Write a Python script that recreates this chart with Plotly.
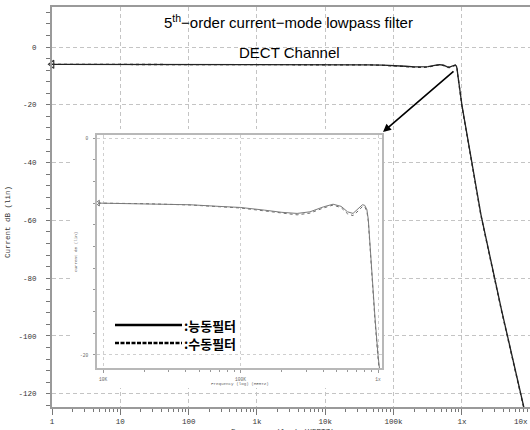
import math
import plotly.graph_objects as go

# ---------------- data ----------------
freq_hz = [1, 10, 100, 1e3, 9.2e3, 2e4, 4.3e4, 7e4, 1e5, 1.5e5, 2e5, 2.58e5, 3.2e5,
           4e5, 4.71e5, 5.4e5, 6e5, 6.58e5, 7.2e5, 7.7e5, 8e5, 8.3e5, 8.5e5, 8.7e5,
           9e5, 9.5e5, 1e6, 1.05e6, 1.3e6, 1.9e6, 3.8e6, 8.5e6]
active_db = [-6.0, -6.0, -6.0, -6.0, -6.0, -6.05, -6.15, -6.3, -6.4, -6.65, -6.85, -6.95, -6.8,
             -6.35, -6.1, -6.3, -6.8, -6.95, -6.5, -6.15, -6.2, -6.6, -7.5, -9.5,
             -12.5, -16.5, -20.0, -23.0, -36.0, -58.0, -91.0, -127.0]
passive_db = [-6.0, -6.0, -6.0, -6.0, -6.0, -6.05, -6.17, -6.33, -6.45, -6.72, -6.93, -7.08, -6.92,
              -6.45, -6.18, -6.42, -6.98, -7.15, -6.7, -6.32, -6.33, -6.75, -7.7, -9.7,
              -12.8, -16.8, -20.3, -23.3, -36.3, -58.3, -91.3, -127.3]
inset_start_hz = 9.2e3

main_x_ticks = [1, 10, 100, 1e3, 1e4, 1e5, 1e6]
main_x_labels = ["1", "10", "100", "1k", "10k", "100k", "1x"]
last_x_tick = 1e7
last_x_label = "10x"
main_y_ticks = [0, -20, -40, -60, -80, -100, -120]
main_y_labels = ["0", "-20", "-40", "-60", "-80", "-100", "-120"]
inset_x_ticks = [1e4, 1e5, 1e6]
inset_x_labels = ["10K", "100K", "1x"]
inset_y_ticks = [0, -20]
inset_y_labels = ["0", "-20"]

title_line1 = "5<sup>th</sup>\u2212order current\u2212mode lowpass filter"
title_line2 = "DECT Channel"
y_title = "Current dB (lin)"
x_title = "Frequency (log) (HERTZ)"
legend_active = ":능동필터"
legend_passive = ":수동필터"

# ---------------- layout helpers ----------------
W, H = 530, 430
L, R, T, B = 52, 0, 7, 23
PW, PH = W - L - R, H - T - B


def fx(p):
    return (p - L) / PW


def fy(p):
    return (H - B - p) / PH


mono = "Liberation Mono"
inset_sel = [i for i, f in enumerate(freq_hz) if f >= inset_start_hz]
inset_f = [freq_hz[i] for i in inset_sel]
inset_a = [active_db[i] for i in inset_sel]
inset_p = [passive_db[i] for i in inset_sel]

fig = go.Figure()

# main plot curves
fig.add_trace(go.Scatter(x=freq_hz, y=passive_db, mode="lines",
                         line=dict(color="#333333", width=1.3, dash="dot"),
                         xaxis="x", yaxis="y", showlegend=False, hoverinfo="skip"))
fig.add_trace(go.Scatter(x=freq_hz, y=active_db, mode="lines",
                         line=dict(color="#222222", width=1.3),
                         xaxis="x", yaxis="y", showlegend=False, hoverinfo="skip"))
fig.add_trace(go.Scatter(x=freq_hz[:1], y=active_db[:1], mode="markers",
                         marker=dict(symbol="triangle-left-open", size=7,
                                     color="#333333", line=dict(width=1.2)),
                         xaxis="x", yaxis="y", showlegend=False, hoverinfo="skip",
                         cliponaxis=False))

# white backing box for the inset (own subplot so its background hides main grid)
fig.add_trace(go.Scatter(x=[], y=[], xaxis="x2", yaxis="y2",
                         showlegend=False, hoverinfo="skip"))

# inset curves
fig.add_trace(go.Scatter(x=inset_f, y=inset_p, mode="lines",
                         line=dict(color="#6a6a6a", width=1, dash="dot"),
                         xaxis="x3", yaxis="y3", showlegend=False, hoverinfo="skip"))
fig.add_trace(go.Scatter(x=inset_f, y=inset_a, mode="lines",
                         line=dict(color="#7a7a7a", width=1),
                         xaxis="x3", yaxis="y3", showlegend=False, hoverinfo="skip"))
fig.add_trace(go.Scatter(x=inset_f[:1], y=inset_a[:1], mode="markers",
                         marker=dict(symbol="triangle-left-open", size=5,
                                     color="#777777", line=dict(width=1)),
                         xaxis="x3", yaxis="y3", showlegend=False, hoverinfo="skip",
                         cliponaxis=False))

main_minor_x = [k * 10 ** d for d in range(0, 7) for k in range(2, 10)]
main_minor_y = list(range(-124, 14, 4))
inset_minor_x = [k * 10 ** d for d in range(4, 6) for k in range(2, 10)]
inset_minor_y = list(range(-20, 1, 2))

grid_col = "#c4c4c4"
fig.update_layout(
    width=W, height=H,
    margin=dict(l=L, r=R, t=T, b=B, pad=0),
    paper_bgcolor="white", plot_bgcolor="white",
    showlegend=False,
    xaxis=dict(type="log", range=[0, 6.997], domain=[0, 1], anchor="y",
               tickmode="array", tickvals=main_x_ticks, ticktext=main_x_labels,
               ticks="outside", ticklen=6, tickcolor="#777", tickwidth=1,
               minor=dict(tickmode="array", tickvals=main_minor_x, ticks="outside",
                          ticklen=3, tickcolor="#777", showgrid=False),
               showline=True, linecolor="#9a9a9a", linewidth=2, mirror=True,
               showgrid=True, gridcolor=grid_col, gridwidth=1, griddash="4px,3px",
               tickfont=dict(family=mono, size=7.5, color="#333"),
               zeroline=False, fixedrange=True),
    yaxis=dict(range=[-124.6, 13.85], domain=[0, 1], anchor="x",
               tickmode="array", tickvals=main_y_ticks, ticktext=main_y_labels,
               ticks="outside", ticklen=4, tickcolor="#777", tickwidth=1,
               minor=dict(tickmode="array", tickvals=main_minor_y, ticks="outside",
                          ticklen=4, tickcolor="#777", showgrid=False),
               showline=True, linecolor="#9a9a9a", linewidth=2, mirror=False,
               showgrid=True, gridcolor=grid_col, gridwidth=1, griddash="4px,3px",
               tickfont=dict(family=mono, size=7.5, color="#333"),
               ticklabelstandoff=8,
               zeroline=False, fixedrange=True),
    xaxis2=dict(domain=[fx(70), fx(384)], anchor="y2", visible=False, range=[0, 1]),
    yaxis2=dict(domain=[fy(388), fy(129)], anchor="x2", visible=False, range=[0, 1]),
    xaxis3=dict(type="log", range=[3.956, 6.029], domain=[fx(97), fx(382)], anchor="y3",
                tickmode="array", tickvals=inset_x_ticks, ticktext=inset_x_labels,
                ticks="outside", ticklen=3, tickcolor="#999",
                minor=dict(tickmode="array", tickvals=inset_minor_x, ticks="outside",
                           ticklen=2, tickcolor="#999", showgrid=False),
                showline=True, linecolor="#b8b8b8", linewidth=2, mirror=True,
                showgrid=True, gridcolor="#cfcfcf", griddash="dot", gridwidth=1,
                tickfont=dict(family=mono, size=4.5, color="#666"),
                ticklabelstandoff=3,
                zeroline=False, fixedrange=True),
    yaxis3=dict(range=[-21.2, 0.28], domain=[fy(368), fy(135)], anchor="x3",
                tickmode="array", tickvals=inset_y_ticks, ticktext=inset_y_labels,
                ticks="outside", ticklen=2, tickcolor="#999",
                minor=dict(tickmode="array", tickvals=inset_minor_y, ticks="outside",
                           ticklen=2, tickcolor="#999", showgrid=False),
                showline=True, linecolor="#b8b8b8", linewidth=2, mirror=True,
                showgrid=True, gridcolor="#cfcfcf", griddash="dot", gridwidth=1,
                tickfont=dict(family=mono, size=4.5, color="#666"),
                ticklabelstandoff=4,
                zeroline=False, fixedrange=True),
)


def label(xp, yp, text, size, family, color="black", xa="center", ya="middle", angle=0):
    return dict(x=fx(xp), y=fy(yp), xref="paper", yref="paper",
                text=text, showarrow=False, xanchor=xa, yanchor=ya, textangle=angle,
                font=dict(family=family, size=size, color=color))


# pixel position of the last decade tick (range end of the log axis)
last_tick_px = L + PW * math.log10(last_x_tick) / 6.997

ann = [
    label(288, 22, title_line1, 15, "Liberation Sans"),
    label(289, 52, title_line2, 15, "Liberation Sans"),
    label(8, 222, y_title, 7.5, mono, "#333", angle=-90),
    label(283, 426, x_title, 7.5, mono, "#333", ya="top"),
    label(min(last_tick_px, W), 422, last_x_label, 7.5, mono, "#333", xa="right"),
    label(240, 384, x_title, 4.2, mono, "#666"),
    label(76, 252, y_title, 4.2, mono, "#666", angle=-90),
    label(182, 325, "<b>" + legend_active + "</b>", 13, "Noto Sans CJK KR", xa="left"),
    label(182, 343, "<b>" + legend_passive + "</b>", 13, "Noto Sans CJK KR", xa="left"),
    # arrow from main curve peak to the inset corner
    dict(x=fx(383), y=fy(132), xref="paper", yref="paper", text="",
         showarrow=True, ax=72, ay=-62, arrowhead=2, arrowsize=1,
         arrowwidth=1.6, arrowcolor="black"),
]
fig.update_layout(annotations=ann)

fig.update_layout(shapes=[
    dict(type="line", xref="paper", yref="paper", x0=fx(115), x1=fx(182), y0=fy(325), y1=fy(325),
         line=dict(color="black", width=2.6), layer="above"),
    dict(type="line", xref="paper", yref="paper", x0=fx(115), x1=fx(182), y0=fy(343), y1=fy(343),
         line=dict(color="black", width=2.6, dash="4px,1.5px"), layer="above"),
])

fig.write_html("out.html", config={"displayModeBar": False},
               post_script="document.body.style.margin='0';document.body.style.overflow='hidden';")
